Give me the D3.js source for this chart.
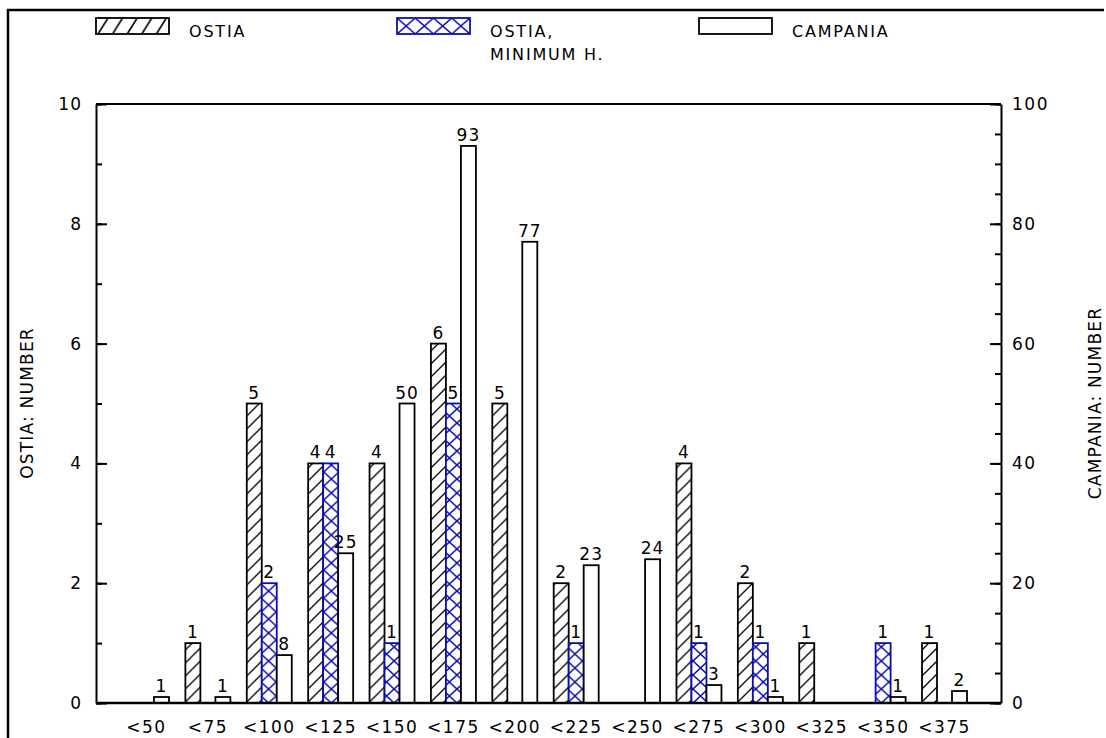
<!DOCTYPE html>
<html>
<head>
<meta charset="utf-8">
<script src="https://cdn.jsdelivr.net/npm/d3@7"></script>
<style>
  body { margin: 0; background: #fff; }
  svg text { font-family: "DejaVu Sans", "Liberation Sans", sans-serif; fill: #000; }
</style>
</head>
<body>
<div id="chart"></div>
<script>
// data
const categories = ["<50", "<75", "<100", "<125", "<150", "<175", "<200", "<225", "<250", "<275", "<300", "<325", "<350", "<375"];
const ostia      = [0, 1, 5, 4, 4, 6, 5, 2, 0, 4, 2, 1, 0, 1];
const ostiaMin   = [0, 0, 2, 4, 1, 5, 0, 1, 0, 1, 1, 0, 1, 0];
const campania   = [1, 1, 8, 25, 50, 93, 77, 23, 24, 3, 1, 0, 1, 2];
const leftTicks  = [0, 2, 4, 6, 8, 10];
const rightTicks = [0, 20, 40, 60, 80, 100];

const W = 1106, H = 738;
const blue = "#0a10b0";

const svg = d3.select("#chart").append("svg")
    .attr("width", W)
    .attr("height", H);

const defs = svg.append("defs");

// page frame (top and left only)
svg.append("path")
    .attr("d", "M8,738 L8,10 L1104,10")
    .attr("fill", "none")
    .attr("stroke", "#000")
    .attr("stroke-width", 2.5);

const plot = {left: 96, right: 1001, top: 104, bottom: 703};

const yL = d3.scaleLinear().domain([0, 10]).range([plot.bottom, plot.top]);
const yR = d3.scaleLinear().domain([0, 100]).range([plot.bottom, plot.top]);

const x0 = d3.scaleBand()
    .domain(categories)
    .range([124, 967])
    .paddingInner(0.267)
    .paddingOuter(0);

const x1 = d3.scaleBand()
    .domain(["ostia", "min", "campania"])
    .range([0, x0.bandwidth()]);

// hatch patterns
const hatch = defs.append("pattern")
    .attr("id", "hatch")
    .attr("patternUnits", "userSpaceOnUse")
    .attr("width", 13).attr("height", 13);
hatch.append("rect").attr("width", 13).attr("height", 13).attr("fill", "#fff");
hatch.append("path")
    .attr("d", "M-3,3 L3,-3 M0,13 L13,0 M10,16 L16,10")
    .attr("stroke", "#000").attr("stroke-width", 1.3);

// one cross-hatch pattern per group so the crosses sit on each bar
categories.forEach((c, i) => {
  const w = x1.bandwidth();
  const p = defs.append("pattern")
      .attr("id", "cross" + i)
      .attr("patternUnits", "userSpaceOnUse")
      .attr("x", x0(c) + x1("min"))
      .attr("y", plot.bottom)
      .attr("width", w).attr("height", 14);
  p.append("rect").attr("width", w).attr("height", 14).attr("fill", "#fff");
  p.append("path")
      .attr("d", `M0,0 L${w},14 M${w},0 L0,14`)
      .attr("stroke", blue).attr("stroke-width", 1.5);
});

const legendHatch = defs.append("pattern")
    .attr("id", "hatchLegend")
    .attr("patternUnits", "userSpaceOnUse")
    .attr("x", 96).attr("y", 18)
    .attr("width", 14.6).attr("height", 16);
legendHatch.append("rect").attr("width", 14.6).attr("height", 16).attr("fill", "#fff");
legendHatch.append("path")
    .attr("d", "M2,16 L12,0 M-12.6,16 L-2.6,0 M16.6,16 L26.6,0")
    .attr("stroke", "#000").attr("stroke-width", 1.6);

const legendCross = defs.append("pattern")
    .attr("id", "crossLegend")
    .attr("patternUnits", "userSpaceOnUse")
    .attr("x", 397).attr("y", 18)
    .attr("width", 18.25).attr("height", 16);
legendCross.append("rect").attr("width", 18.25).attr("height", 16).attr("fill", "#fff");
legendCross.append("path")
    .attr("d", "M0,0 L18.25,16 M18.25,0 L0,16")
    .attr("stroke", blue).attr("stroke-width", 1.5);

// axes
svg.append("g")
    .attr("transform", `translate(${plot.left},0)`)
    .call(d3.axisLeft(yL).tickValues(d3.range(0, 11, 1)).tickSize(-6).tickFormat(""))
    .call(g => g.select(".domain").remove());

svg.append("g")
    .attr("transform", `translate(${plot.left},0)`)
    .call(d3.axisLeft(yL).tickValues(leftTicks).tickSizeInner(-11).tickSizeOuter(0).tickPadding(14))
    .call(g => g.selectAll("text").style("font-size", "17px").style("letter-spacing", "1px").attr("font-family", null))
    .call(g => g.selectAll(".domain").attr("stroke-width", 2));

svg.append("g")
    .attr("transform", `translate(${plot.right},0)`)
    .call(d3.axisRight(yR).tickValues(d3.range(0, 101, 5)).tickSize(-6).tickFormat(""))
    .call(g => g.select(".domain").remove());

svg.append("g")
    .attr("transform", `translate(${plot.right},0)`)
    .call(d3.axisRight(yR).tickValues(rightTicks).tickSizeInner(-11).tickSizeOuter(0).tickPadding(11))
    .call(g => g.selectAll("text").style("font-size", "17px").style("letter-spacing", "1.5px").attr("font-family", null))
    .call(g => g.selectAll(".domain").attr("stroke-width", 2));

svg.selectAll("g.tick line").attr("stroke-width", 2);

// top frame line
svg.append("line")
    .attr("x1", plot.left).attr("x2", plot.right)
    .attr("y1", yL(10)).attr("y2", yL(10))
    .attr("stroke", "#000").attr("stroke-width", 2);

// bars
const rows = categories.map((c, i) => ({cat: c, i, ostia: ostia[i], min: ostiaMin[i], campania: campania[i]}));

const groups = svg.selectAll(".grp")
  .data(rows)
  .enter().append("g")
    .attr("class", "grp")
    .attr("transform", d => `translate(${x0(d.cat)},0)`);

const series = [
  {key: "ostia", y: yL, fill: () => "url(#hatch)", stroke: "#000"},
  {key: "min", y: yL, fill: d => `url(#cross${d.i})`, stroke: blue},
  {key: "campania", y: yR, fill: () => "#fff", stroke: "#000"}
];

series.forEach(s => {
  groups.filter(d => d[s.key] > 0).append("rect")
      .attr("x", x1(s.key))
      .attr("y", d => s.y(d[s.key]))
      .attr("width", x1.bandwidth())
      .attr("height", d => plot.bottom - s.y(d[s.key]))
      .attr("fill", s.fill)
      .attr("stroke", s.stroke)
      .attr("stroke-width", 1.8);

  groups.filter(d => d[s.key] > 0).append("text")
      .attr("x", x1(s.key) + x1.bandwidth() / 2)
      .attr("y", d => s.y(d[s.key]) - 5)
      .attr("text-anchor", "middle")
      .style("font-size", "17px")
      .style("letter-spacing", "1px")
      .text(d => d[s.key]);
});

// baseline
svg.append("g")
    .attr("transform", `translate(0,${plot.bottom})`)
    .call(d3.axisBottom(x0).tickSize(0).tickPadding(18))
    .call(g => g.select(".domain").attr("d", `M${plot.left},0H${plot.right}`).attr("stroke-width", 2.5))
    .call(g => g.selectAll("text").style("font-size", "17px").style("letter-spacing", "1.5px").attr("font-family", null));

// zero-height bars show as a flat segment in their own colour
series.forEach(s => {
  groups.filter(d => d[s.key] === 0 && s.key === "min").append("line")
      .attr("x1", x1(s.key)).attr("x2", x1(s.key) + x1.bandwidth())
      .attr("y1", s.y(0)).attr("y2", s.y(0))
      .attr("stroke", s.stroke)
      .attr("stroke-width", 2);
});

// axis titles
svg.append("text")
    .attr("transform", "translate(33,403) rotate(-90)")
    .attr("text-anchor", "middle")
    .style("font-size", "17px")
    .style("letter-spacing", "1.2px")
    .text("OSTIA:  NUMBER");

svg.append("text")
    .attr("transform", "translate(1101,403) rotate(-90)")
    .attr("text-anchor", "middle")
    .style("font-size", "17px")
    .style("letter-spacing", "1.2px")
    .text("CAMPANIA:  NUMBER");

// legend
const legend = [
  {x: 96, fill: "url(#hatchLegend)", stroke: "#000", lines: ["OSTIA"]},
  {x: 397, fill: "url(#crossLegend)", stroke: blue, lines: ["OSTIA,", "MINIMUM  H."]},
  {x: 699, fill: "#fff", stroke: "#000", lines: ["CAMPANIA"]}
];

const lg = svg.selectAll(".lg")
  .data(legend)
  .enter().append("g")
    .attr("class", "lg");

lg.append("rect")
    .attr("x", d => d.x).attr("y", 18)
    .attr("width", 73).attr("height", 16)
    .attr("fill", d => d.fill)
    .attr("stroke", d => d.stroke)
    .attr("stroke-width", 1.8);

lg.append("text")
    .attr("y", 37)
    .style("font-size", "16px")
    .style("letter-spacing", "1.8px")
    .selectAll("tspan")
    .data(d => d.lines.map((t, k) => ({t, k, x: d.x + 93})))
    .enter().append("tspan")
      .attr("x", d => d.x)
      .attr("dy", d => d.k ? 23 : 0)
      .text(d => d.t);
</script>
</body>
</html>
